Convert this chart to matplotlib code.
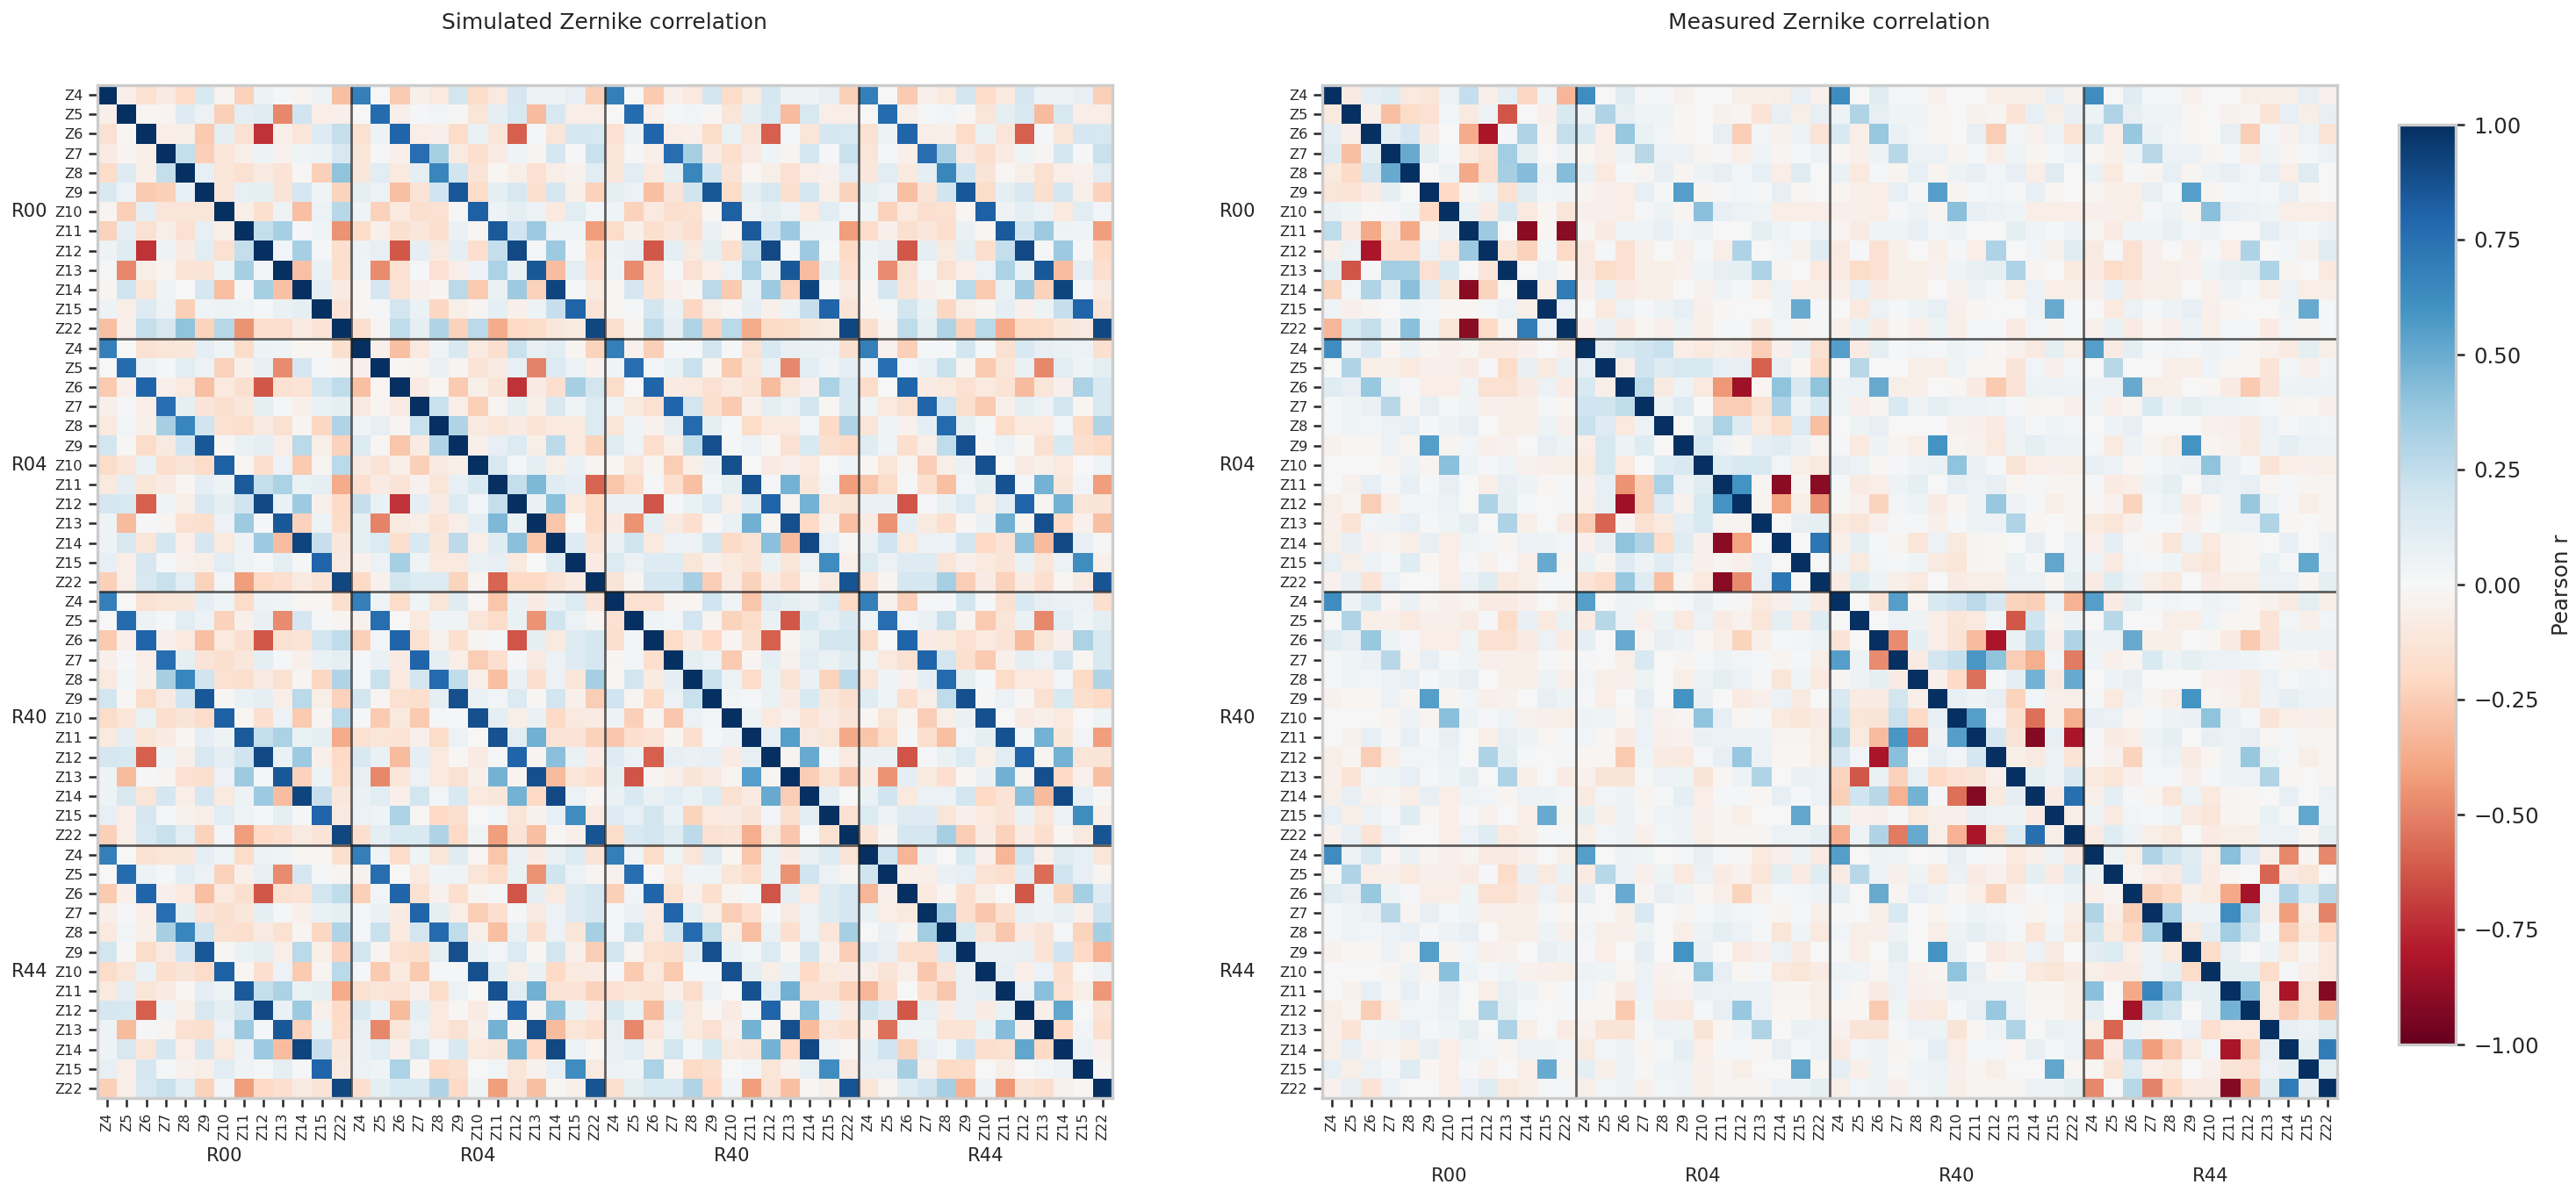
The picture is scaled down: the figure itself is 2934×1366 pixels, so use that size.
import numpy as np
import matplotlib
matplotlib.use("Agg")
import matplotlib.pyplot as plt

zernikes = ["Z4", "Z5", "Z6", "Z7", "Z8", "Z9", "Z10", "Z11", "Z12", "Z13", "Z14", "Z15", "Z22"]
rafts = ["R00", "R04", "R40", "R44"]

# simulated, same raft blocks
sim_r00 = [
    [1, -.05, -.15, -.08, -.18, .15, -.03, -.23, .05, .02, -.03, .05, -.30],
    [-.05, 1, -.02, -.03, .13, .06, -.24, .09, .12, -.48, .2, -.07, -.05],
    [-.15, -.02, 1, -.07, -.06, -.26, .1, -.15, -.72, -.06, -.12, .13, .24],
    [-.08, -.03, -.07, 1, .24, -.24, -.12, -.06, .05, -.04, .04, .05, .16],
    [-.18, .13, -.06, .24, 1, .08, -.12, -.15, -.09, -.14, -.01, -.24, .40],
    [.15, .06, -.26, -.24, .08, 1, -.12, .08, .1, -.13, .17, .04, -.22],
    [-.03, -.24, .1, -.12, -.12, -.12, 1, -.06, -.16, .05, -.30, .06, .28],
    [-.23, .09, -.15, -.06, -.15, .08, -.06, 1, .24, .33, .02, .04, -.45],
    [.05, .12, -.72, .05, -.08, .11, -.15, .24, 1, .03, .33, .02, -.17],
    [.02, -.48, -.06, -.03, -.14, -.13, .05, .33, .03, 1, -.29, .07, -.17],
    [-.03, .2, -.12, .04, .0, .17, -.30, .02, .33, -.29, 1, .1, -.08],
    [.05, -.07, .13, .05, -.24, .04, .05, .04, .02, .07, .1, 1, -.14],
    [-.30, -.05, .24, .16, .40, -.22, .28, -.45, -.17, -.17, -.08, -.14, 1],
]
sim_r04 = [
    [1, -.05, -.3, -.1, .04, .15, -.1, -.16, .22, .08, .11, -.03, -.22],
    [-.05, 1, -.01, -.03, .07, -.03, -.14, -.08, .08, -.5, .14, .06, -.04],
    [-.3, -.02, 1, -.08, -.02, -.26, -.06, -.13, -.72, -.08, -.17, .33, .18],
    [-.09, -.03, -.09, 1, .22, -.07, -.24, -.03, .09, -.06, .15, .04, .14],
    [.04, .08, -.03, .22, 1, .3, -.09, -.12, -.08, -.14, -.1, -.1, .14],
    [.14, -.02, -.28, -.08, .3, 1, -.05, .08, .14, -.06, .26, -.1, -.22],
    [-.09, -.14, -.06, -.24, -.09, -.05, 1, .15, .02, .09, -.06, .07, -.03],
    [-.17, -.08, -.13, -.04, -.12, .08, .15, 1, .24, .45, .12, .09, -.58],
    [.23, .07, -.72, .09, -.08, .14, .03, .24, 1, .07, .42, -.1, -.2],
    [.09, -.5, -.09, -.07, -.14, -.07, .1, .45, .07, 1, -.28, .0, -.2],
    [.1, .14, -.16, .15, -.11, .26, -.07, .12, .42, -.28, 1, .13, -.14],
    [-.04, .06, .33, .04, -.1, -.1, .07, .08, -.1, .0, .13, 1, -.08],
    [-.2, -.04, .18, .14, .14, -.22, -.03, -.58, -.2, -.2, -.14, -.08, 1],
]
sim_r40 = [
    [1, -.15, -.15, -.03, -.02, .2, .04, -.28, .13, .1, .07, .14, -.2],
    [-.15, 1, .04, .03, .19, -.03, -.22, -.18, .07, -.62, .15, .08, .15],
    [-.16, .03, 1, -.18, -.08, -.2, -.03, -.16, -.6, -.03, .08, .18, .18],
    [-.03, .03, -.17, 1, .1, .06, -.26, -.03, .09, -.04, .11, .07, .12],
    [-.01, .18, -.08, .1, 1, .22, .06, -.18, .07, -.14, .07, -.22, .26],
    [.2, -.03, -.2, .06, .22, 1, .03, .01, .07, -.08, .15, -.11, -.16],
    [.05, -.24, -.03, -.27, .06, .03, 1, .05, -.1, -.04, -.14, -.08, -.13],
    [-.27, -.17, -.14, -.03, -.17, .01, .05, 1, .08, .55, -.09, -.12, -.38],
    [.13, .06, -.6, .08, .07, .08, -.08, .08, 1, -.03, .5, .02, -.1],
    [.09, -.63, -.03, -.05, -.13, -.08, -.03, .55, -.03, 1, -.25, -.15, -.27],
    [.07, .15, .07, .11, .07, .14, -.15, -.09, .5, -.25, 1, .1, .0],
    [.13, .08, .18, .07, -.22, -.1, -.08, -.13, .03, -.16, .11, 1, -.15],
    [-.18, .15, .18, .12, .26, -.15, -.13, -.36, -.09, -.27, .0, -.15, 1],
]
sim_r44 = [
    [1, .2, -.33, .07, .0, .15, -.05, -.33, .2, -.05, .12, .08, -.12],
    [.2, 1, -.05, -.07, .07, .08, -.14, -.17, .12, -.56, .2, .08, -.03],
    [-.33, -.05, 1, -.1, -.03, -.17, -.06, .0, -.62, .05, -.22, .33, .13],
    [.07, -.07, -.1, 1, .35, -.17, -.27, -.16, .08, .05, .08, -.05, .2],
    [.0, .07, -.03, .35, 1, .15, -.13, -.27, -.08, -.13, .02, -.22, .33],
    [.13, .08, -.16, -.17, .15, 1, .07, .07, .08, -.14, .2, -.2, -.35],
    [-.06, -.13, -.06, -.27, -.13, .07, 1, .08, -.07, .06, -.17, .0, .05],
    [-.33, -.17, .0, -.16, -.27, .07, .09, 1, .06, .42, -.15, -.06, -.43],
    [.2, .13, -.62, .08, -.08, .07, -.08, .07, 1, -.05, .52, .0, -.13],
    [-.05, -.55, .05, .04, -.14, -.14, .07, .43, -.05, 1, -.2, .03, -.17],
    [.1, .2, -.22, .08, .03, .2, -.17, -.15, .52, -.2, 1, .06, -.04],
    [.08, .08, .33, -.05, -.2, -.18, .0, -.06, .0, .03, .06, 1, -.01],
    [-.12, -.03, .13, .2, .33, -.35, .05, -.43, -.13, -.17, -.04, -.01, 1],
]

# simulated, blocks between two rafts
sim_cross_a = [
    [.68, .0, -.15, -.12, -.11, .1, .04, -.18, .05, .04, -.02, -.02, -.16],
    [.0, .77, .05, .02, .11, .06, -.23, -.05, .08, -.47, .17, .01, -.03],
    [-.26, -.05, .8, -.05, -.1, -.3, -.1, -.16, -.62, -.15, -.14, .18, .25],
    [-.05, .01, -.07, .76, .1, -.13, -.16, -.11, .09, .02, -.05, .07, .09],
    [-.1, .03, -.05, .33, .65, .2, -.15, -.17, -.09, -.15, -.03, -.21, .3],
    [.18, -.01, -.18, -.09, .2, .85, -.01, .07, .09, -.07, .27, -.06, -.23],
    [-.18, -.12, .07, -.17, -.13, -.18, .82, -.02, -.17, .06, -.26, -.03, .27],
    [-.1, .1, -.12, -.08, -.02, .1, .05, .84, .24, .32, .07, .1, -.37],
    [.17, .16, -.6, .04, -.06, .16, .09, .2, .9, .07, .36, -.05, -.2],
    [.05, -.32, .01, -.03, -.15, -.16, .06, .36, .02, .85, -.23, .05, -.18],
    [.05, .16, -.12, .17, -.07, .17, -.1, .05, .36, -.31, .92, .23, -.11],
    [.08, -.07, .17, .01, -.04, -.06, .11, .04, .01, .1, .02, .8, -.09],
    [-.24, -.07, .16, .22, .11, -.23, .03, -.42, -.2, -.17, -.09, -.13, .91],
]
sim_cross_b = [
    [.68, .04, -.18, .04, -.12, .12, -.02, -.28, .07, -.08, .07, .14, -.13],
    [-.04, .76, .0, -.1, .04, .04, -.12, -.18, .07, -.45, .2, .06, -.03],
    [-.24, .03, .8, -.15, -.04, -.17, -.03, .01, -.63, .09, -.1, .13, .17],
    [.01, .07, -.08, .8, .1, -.06, -.25, -.17, .02, -.09, .06, .13, .17],
    [.02, .22, -.1, .18, .78, .25, -.06, -.3, .07, -.17, .06, -.12, .33],
    [.18, -.03, -.15, -.16, .09, .88, .07, .03, .14, -.01, .18, -.05, -.25],
    [.01, -.26, -.1, -.26, .02, .01, .88, .1, -.06, .07, -.2, -.1, -.08],
    [-.15, -.12, -.14, -.05, -.18, .06, .0, .87, .11, .48, -.14, -.13, -.23],
    [.15, .07, -.32, .09, -.1, -.01, -.08, .02, .8, -.03, .42, .07, -.08],
    [.08, -.48, -.12, .06, -.1, -.15, -.05, .47, -.03, .88, -.32, -.12, -.17],
    [.07, .11, -.05, .18, .03, .15, -.1, -.11, .47, -.2, .9, .06, -.02],
    [.06, .04, .32, -.02, -.2, -.16, .0, .03, -.12, -.04, .08, .62, -.09],
    [-.16, .09, .15, .15, .3, -.2, .04, -.42, -.13, -.3, -.01, -.05, .86],
]

# measured, same raft blocks
meas_r00 = [
    [1, -.08, .09, .12, -.1, -.12, .06, .24, -.05, .1, -.21, .04, -.33],
    [-.1, 1, -.05, -.3, -.18, -.15, .03, -.09, .05, -.63, .0, -.05, .15],
    [.1, -.05, 1, .1, .17, -.08, .0, -.37, -.82, .02, .3, -.03, .24],
    [.13, -.3, .1, 1, .5, .09, .01, -.1, -.15, .35, .1, .0, .05],
    [-.1, -.19, .17, .5, 1, .0, .05, -.38, -.17, .33, .43, .05, .43],
    [-.12, -.14, -.08, .09, .0, 1, -.2, -.03, .06, -.15, .12, .03, .04],
    [.07, .04, .0, .01, .04, -.2, 1, .07, -.08, .15, -.1, -.02, -.12],
    [.25, -.09, -.38, -.12, -.38, -.03, .07, 1, .36, .0, -.9, -.02, -.9],
    [-.05, .06, -.82, -.17, -.17, .06, -.1, .36, 1, -.12, -.23, .02, -.2],
    [.1, -.63, .02, .35, .33, -.15, .15, .0, -.12, 1, .0, .06, -.02],
    [-.22, .03, .3, .1, .42, .12, -.11, -.9, -.22, .0, 1, -.06, .7],
    [.04, -.05, -.03, .0, .05, .03, -.02, -.02, .02, .06, -.06, 1, .06],
    [-.33, .15, .24, .05, .42, .04, -.12, -.9, -.2, -.02, .7, .06, 1],
]
meas_r04 = [
    [1, .08, .15, .2, .22, -.07, -.1, -.06, -.08, -.25, -.05, .07, -.15],
    [.08, 1, -.06, .2, .13, .16, .15, .08, .08, -.6, .08, -.02, -.2],
    [.15, -.06, 1, .25, -.09, .05, -.1, -.43, -.85, -.02, .4, .15, .4],
    [.2, .2, .25, 1, .05, .13, .0, -.25, -.25, -.15, .3, .05, .15],
    [.22, .13, -.1, .05, 1, .0, .12, .32, .13, -.1, -.18, .14, -.3],
    [-.07, .16, .05, .13, .0, 1, .15, .05, -.03, .1, .12, .07, -.03],
    [-.1, .16, -.1, .0, .12, .15, 1, .12, .15, .15, .03, -.06, -.1],
    [-.05, .08, -.45, -.24, .32, .05, .12, 1, .6, -.03, -.9, -.03, -.9],
    [-.07, .08, -.85, -.24, .13, -.04, .15, .6, 1, -.03, -.4, -.06, -.45],
    [-.25, -.58, -.03, -.15, -.1, .1, .15, -.03, -.03, 1, .0, .08, .1],
    [-.05, .08, .4, .3, -.18, .12, -.05, -.9, -.4, .0, 1, .0, .72],
    [.07, -.03, .13, .05, .12, .06, -.05, -.03, -.05, .08, .0, 1, .0],
    [-.14, -.18, .38, .12, -.3, -.03, -.1, -.9, -.47, .08, .72, .0, 1],
]
meas_r40 = [
    [1, .0, -.13, .55, -.02, .15, .2, .27, .17, -.22, -.24, .06, -.35],
    [.0, 1, .0, .06, .05, -.07, -.12, -.1, .03, -.62, .2, -.03, .05],
    [-.13, .0, 1, -.47, .1, -.07, -.13, -.32, -.82, .07, .28, -.05, .3],
    [.55, .05, -.47, 1, -.08, .18, .23, .58, .4, -.25, -.36, .03, -.52],
    [-.03, .05, .1, -.08, 1, -.05, -.2, -.55, .01, .09, .47, -.09, .5],
    [.15, -.08, -.08, .18, -.05, 1, .08, .05, .08, -.22, .03, -.05, -.06],
    [.2, -.12, -.13, .22, -.2, .08, 1, .55, .03, -.17, -.55, -.06, -.36],
    [.28, -.1, -.32, .58, -.55, .05, .55, 1, .17, -.13, -.92, .08, -.82],
    [.17, .03, -.82, .42, .0, .08, .03, .17, 1, -.06, -.09, .06, -.14],
    [-.22, -.62, .07, -.23, .08, -.2, -.15, -.13, -.05, 1, .1, .05, .15],
    [-.24, .2, .28, -.35, .47, .02, -.55, -.92, -.1, .1, 1, -.08, .75],
    [.07, -.04, -.05, .02, -.1, -.05, -.05, .08, .06, .05, -.08, 1, -.07],
    [-.36, .05, .3, -.52, .5, -.06, -.35, -.82, -.15, .14, .75, -.06, 1],
]
meas_r44 = [
    [1, .05, -.06, .3, .2, .12, -.07, .42, .13, -.07, -.48, -.03, -.48],
    [.05, 1, -.03, -.07, -.09, .14, -.08, -.01, .0, -.58, -.08, -.12, .0],
    [-.05, -.03, 1, -.24, -.2, -.06, -.1, -.38, -.83, .06, .3, .15, .28],
    [.3, -.07, -.24, 1, .35, .06, .05, .62, .25, -.05, -.42, -.07, -.5],
    [.2, -.1, -.2, .35, 1, -.09, .1, .35, .18, .02, -.25, -.1, -.2],
    [.11, .14, -.07, .05, -.1, 1, -.18, .08, .0, .05, -.1, -.01, -.1],
    [-.06, -.08, -.08, .06, .1, -.18, 1, .1, .09, -.18, .02, -.05, -.1],
    [.42, .0, -.38, .65, .35, .08, .1, 1, .45, -.1, -.82, -.15, -.92],
    [.1, .0, -.83, .25, .18, .0, .1, .47, 1, -.1, -.25, -.15, -.3],
    [-.07, -.58, .05, -.03, .02, .06, -.17, -.1, -.1, 1, .08, .06, .12],
    [-.5, -.08, .3, -.42, -.25, -.1, .03, -.82, -.25, .08, 1, .1, .7],
    [-.02, -.13, .14, -.07, -.1, .0, -.05, -.13, -.15, .06, .1, 1, .1],
    [-.48, .0, .28, -.5, -.2, -.1, -.08, -.92, -.3, .12, .7, .1, 1],
]

# measured, blocks between two rafts
meas_cross_a = [
    [.62, .05, .15, -.02, .07, -.03, -.05, -.03, -.09, -.08, -.05, .0, -.05],
    [.0, .3, -.07, -.05, -.1, -.05, -.05, -.08, .02, -.18, .08, -.1, .07],
    [.12, .08, .38, .05, .02, -.07, -.07, .04, -.15, -.15, -.08, .06, -.08],
    [.02, .04, .07, .28, -.03, .08, .02, .04, -.05, -.05, -.06, .01, -.02],
    [.01, .04, .03, .06, .08, .01, .05, .08, .0, -.06, -.06, .05, -.05],
    [-.04, -.02, -.02, .06, -.03, .55, -.03, .03, -.05, -.04, .0, .08, .05],
    [.0, .0, .0, -.03, .05, -.03, .42, .05, .01, .04, -.04, -.05, -.06],
    [.0, -.04, .08, .01, .08, .01, .08, .0, -.07, .08, .05, -.02, .01],
    [-.06, -.03, -.25, -.07, .03, .03, .06, .0, .31, .1, .02, .0, .02],
    [-.05, -.14, .03, .04, .08, .02, .04, .09, .0, .31, -.06, .0, -.08],
    [-.06, .08, -.04, -.03, -.07, .08, -.07, .04, .03, -.03, .06, .05, .03],
    [.08, -.06, .06, .02, .12, -.02, -.07, .01, -.04, .0, -.07, .5, -.03],
    [-.04, .08, -.14, .06, .0, .0, -.07, .06, .12, -.1, -.06, .02, .02],
]
meas_cross_b = [
    [.55, .0, .05, .04, .0, .01, .08, .01, -.01, -.1, -.05, .05, -.08],
    [-.08, .28, .06, -.05, .05, -.1, .06, -.08, -.04, -.12, .09, -.09, .12],
    [.1, .0, .5, -.03, .08, .05, -.02, -.07, -.22, -.05, .02, .03, .05],
    [.01, .0, -.06, .15, .0, -.03, .01, .05, .03, .01, -.03, .01, -.06],
    [.03, -.06, -.05, .05, .0, -.07, .05, .09, .06, .02, -.12, .04, -.1],
    [.02, -.07, .0, .09, .0, .6, .07, .0, -.08, -.05, .06, -.09, .0],
    [.05, .04, -.02, .06, -.04, -.03, .4, .08, -.02, .01, -.1, -.12, -.08],
    [.03, -.02, -.08, .06, -.05, -.04, .07, .06, .05, .05, -.03, -.03, -.06],
    [-.02, -.02, -.26, .04, -.08, -.1, .02, .08, .38, .06, -.02, -.02, -.06],
    [-.04, -.13, -.13, .02, .06, .05, -.13, -.02, .05, .3, .0, .07, .06],
    [-.09, .03, .05, -.03, .01, .1, -.07, .02, .01, -.02, .08, .02, .06],
    [.09, -.05, .05, -.01, .04, .06, -.05, -.03, -.06, .0, .0, .52, -.02],
    [-.06, .03, .05, -.05, .03, .05, -.06, -.03, -.03, -.03, .06, .05, .09],
]

W, H = 2934, 1366
SPINE = "#cccccc"
DARK = "#262626"


def build_matrix(autos, cross_a, cross_b):
    # stack the raft blocks into the full matrix
    rows = []
    for i in range(4):
        row = []
        for j in range(4):
            if i == j:
                row.append(np.array(autos[i]))
            elif i < j:
                row.append(np.array(cross_a if i == 0 else cross_b).T)
            else:
                row.append(np.array(cross_a if j == 0 else cross_b))
        rows.append(row)
    return np.block(rows)


def draw_panel(ax, matrix, group_pad, ylabel_x):
    im = ax.imshow(matrix, cmap="RdBu", vmin=-1, vmax=1, aspect="auto", interpolation="nearest")
    n = len(zernikes)
    ticks = np.arange(n * 4)
    ax.set_xticks(ticks)
    ax.set_yticks(ticks)
    ax.set_xticklabels(zernikes * 4, rotation=90, fontsize=5.8, color=DARK)
    ax.set_yticklabels(zernikes * 4, fontsize=5.8, color=DARK)
    ax.tick_params(length=3.5, width=0.9, color=DARK, pad=2.5)
    for s in ax.spines.values():
        s.set_color(SPINE)
        s.set_linewidth(1.2)
    for k in range(1, 4):
        ax.axvline(k * n - 0.5, color="#202020", lw=1.0, alpha=0.7)
        ax.axhline(k * n - 0.5, color="#202020", lw=1.0, alpha=0.7)
    for k, raft in enumerate(rafts):
        c = k * n + (n - 1) / 2
        ax.text(c, group_pad, raft, transform=ax.get_xaxis_transform(), ha="center", va="center",
                fontsize=7.6, color=DARK)
        ax.text(ylabel_x, c, raft, transform=ax.get_yaxis_transform(), ha="center", va="center",
                fontsize=7.6, color=DARK)
    return im


def px_axes(fig, x0, x1, y0, y1):
    return fig.add_axes([x0 / W, 1 - y1 / H, (x1 - x0) / W, (y1 - y0) / H])


fig = plt.figure(figsize=(W / 200, H / 200), dpi=200)

ax1 = px_axes(fig, 111, 1267, 97, 1251)
ax2 = px_axes(fig, 1506, 2662, 97, 1251)
sim_matrix = build_matrix([sim_r00, sim_r04, sim_r40, sim_r44], sim_cross_a, sim_cross_b)
meas_matrix = build_matrix([meas_r00, meas_r04, meas_r40, meas_r44], meas_cross_a, meas_cross_b)
draw_panel(ax1, sim_matrix, -0.0575, -0.067)
im = draw_panel(ax2, meas_matrix, -0.077, -0.0835)
fig.text(688 / W, 1 - 26 / H, "Simulated Zernike correlation", ha="center", va="center", fontsize=9, color=DARK)
fig.text(2083 / W, 1 - 26 / H, "Measured Zernike correlation", ha="center", va="center", fontsize=9, color=DARK)

cax = px_axes(fig, 2732, 2797, 142, 1190)
cbar = fig.colorbar(im, cax=cax)
cbar.set_ticks(np.arange(-1, 1.01, 0.25))
cbar.ax.tick_params(labelsize=8.8, length=3.5, width=0.9, color=DARK, labelcolor=DARK, pad=4)
cbar.outline.set_edgecolor(SPINE)
cbar.outline.set_linewidth(1.2)
cbar.set_label("Pearson r", fontsize=8.8, color=DARK, labelpad=5)

fig.savefig("out.png", dpi=200)
